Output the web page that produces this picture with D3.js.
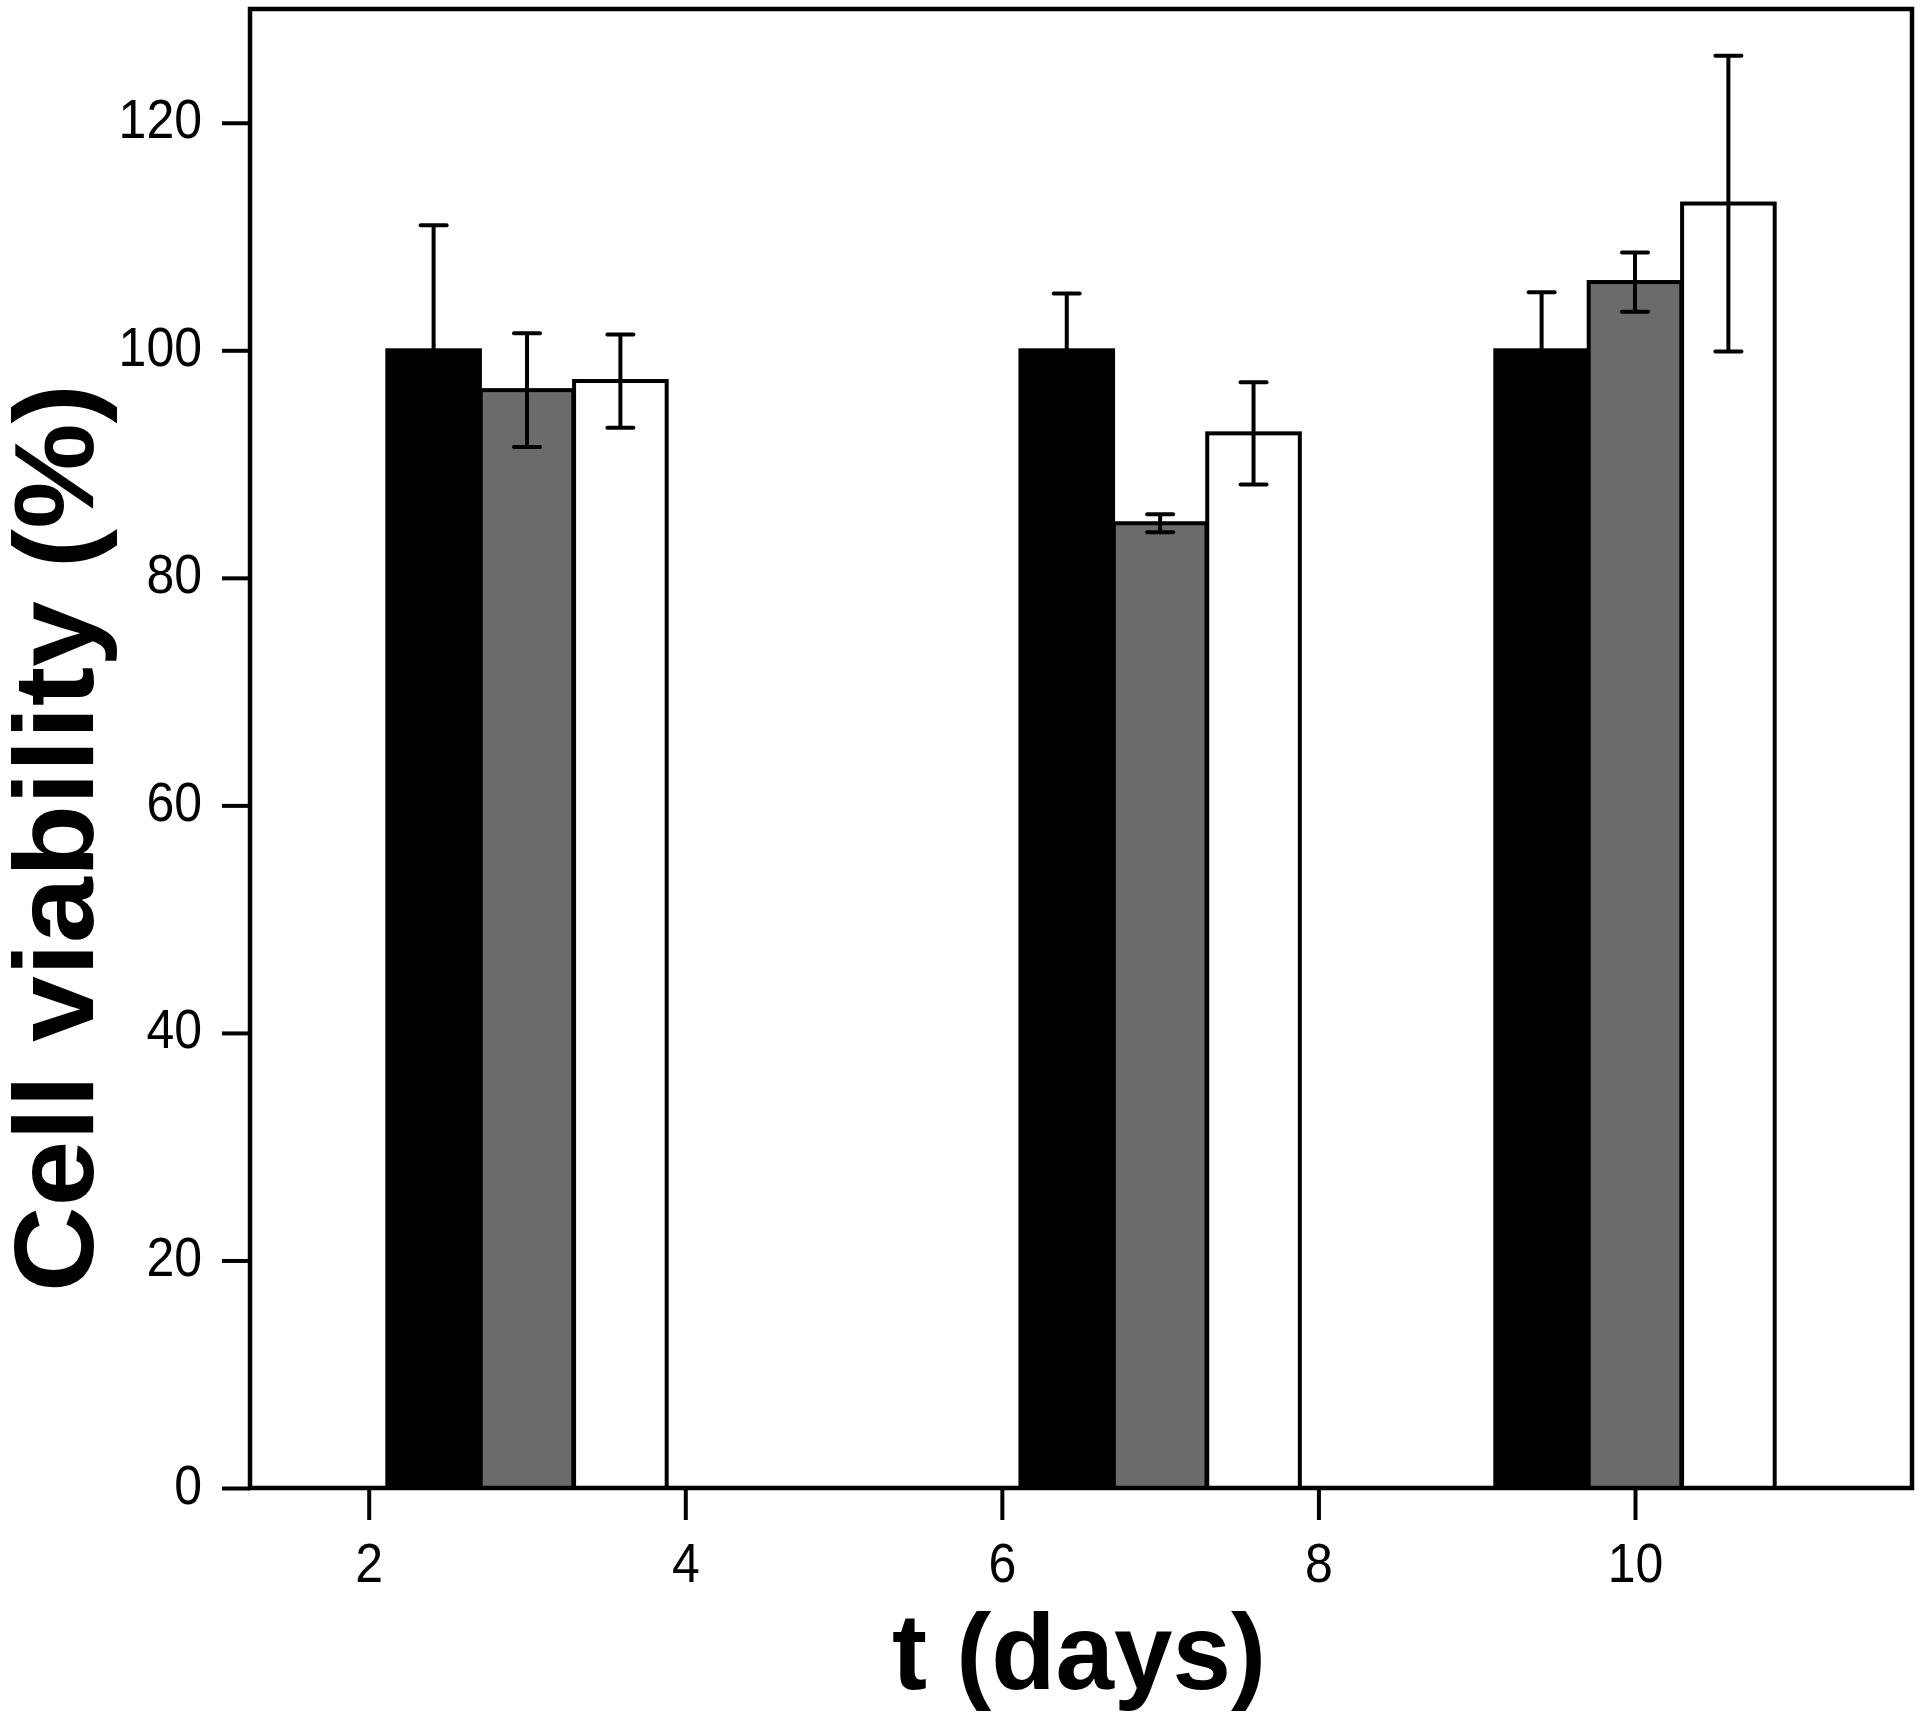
<!DOCTYPE html>
<html>
<head>
<meta charset="utf-8">
<script src="https://cdn.jsdelivr.net/npm/d3@7"></script>
<style>
  html, body { margin: 0; padding: 0; background: #fff; }
  svg { display: block; }
  text { font-family: "Liberation Sans", Arial, Helvetica, sans-serif; }
</style>
</head>
<body>
<svg id="chart" width="1920" height="1719"></svg>
<script>
// ---- data ----
const days = [3, 7, 10];
const seriesNames = ["Series 1", "Series 2", "Series 3"];
const seriesColors = ["#000000", "#6b6b6b", "#ffffff"];
const series1 = [100, 100, 100];
const series1Err = [11, 5, 5.1];
const series2 = [96.5, 84.8, 106];
const series2Err = [5, 0.8, 2.6];
const series3 = [97.3, 92.7, 112.9];
const series3Err = [4.1, 4.5, 13];
const xTicks = [2, 4, 6, 8, 10];
const yTicks = [0, 20, 40, 60, 80, 100, 120];
const xTitle = "t (days)";
const yTitle = "Cell viability (%)";

// ---- layout ----
const plotLeft = 250, plotRight = 1912, plotTop = 9, plotBottom = 1488;
const barWidth = 0.585; // in days
const offsets = [-0.59, 0, 0.59];
const labelStretch = 1.12;

const svg = d3.select("#chart");
const x = d3.scaleLinear().domain([1.25, 11.75]).range([plotLeft, plotRight]);
const y = d3.scaleLinear().domain([0, 130]).range([plotBottom, plotTop]);

const values = [series1, series2, series3];
const errs = [series1Err, series2Err, series3Err];
const rows = [];
values.forEach((vals, s) => {
  vals.forEach((v, i) => {
    rows.push({ s, day: days[i], v, e: errs[s][i] });
  });
});

// bars
svg.append("g").selectAll("rect").data(rows).join("rect")
  .attr("x", d => x(d.day + offsets[d.s] - barWidth / 2))
  .attr("y", d => y(d.v))
  .attr("width", d => x(d.day + offsets[d.s] + barWidth / 2) - x(d.day + offsets[d.s] - barWidth / 2))
  .attr("height", d => y(0) - y(d.v))
  .attr("fill", d => seriesColors[d.s])
  .attr("stroke", "#000")
  .attr("stroke-width", 4);

// error bars
const capHalf = 13;
const eg = svg.append("g").attr("stroke", "#000").attr("stroke-width", 4).attr("fill", "none");
rows.forEach(d => {
  const cx = x(d.day + offsets[d.s]);
  eg.append("line").attr("x1", cx).attr("x2", cx).attr("y1", y(d.v + d.e)).attr("y2", y(d.v - d.e));
  eg.append("line").attr("x1", cx - capHalf).attr("x2", cx + capHalf).attr("y1", y(d.v + d.e)).attr("y2", y(d.v + d.e)).attr("stroke-linecap", "round");
  eg.append("line").attr("x1", cx - capHalf).attr("x2", cx + capHalf).attr("y1", y(d.v - d.e)).attr("y2", y(d.v - d.e)).attr("stroke-linecap", "round");
});

// frame
svg.append("rect")
  .attr("x", plotLeft).attr("y", plotTop)
  .attr("width", plotRight - plotLeft).attr("height", plotBottom - plotTop)
  .attr("fill", "none").attr("stroke", "#000").attr("stroke-width", 4.5);

// axes
const xAxis = svg.append("g").attr("transform", `translate(0,${plotBottom})`)
  .call(d3.axisBottom(x).tickValues(xTicks).tickSize(32).tickPadding(22).tickFormat(d3.format("d")));
const yAxis = svg.append("g").attr("transform", `translate(${plotLeft},0)`)
  .call(d3.axisLeft(y).tickValues(yTicks).tickSize(28).tickPadding(20).tickFormat(d3.format("d")));
[xAxis, yAxis].forEach(g => {
  g.select(".domain").remove();
  g.selectAll(".tick line").attr("stroke", "#000").attr("stroke-width", 4);
  g.selectAll(".tick text").attr("fill", "#000")
    .style("font-size", "50px").style("font-family", "'Liberation Sans', Arial, sans-serif")
    .attr("transform", `scale(1,${labelStretch})`);
});
yAxis.selectAll(".tick text").attr("dy", 15 / labelStretch);
xAxis.selectAll(".tick text").attr("y", 0).attr("dy", 94 / labelStretch);

// titles
svg.append("text")
  .attr("x", (plotLeft + plotRight) / 2 - 2).attr("y", 1689)
  .attr("text-anchor", "middle")
  .attr("textLength", 374).attr("lengthAdjust", "spacingAndGlyphs")
  .style("font-size", "108px").style("font-weight", "bold")
  .text(xTitle);

svg.append("text")
  .attr("transform", "translate(93,838) rotate(-90)")
  .attr("text-anchor", "middle")
  .attr("textLength", 908).attr("lengthAdjust", "spacingAndGlyphs")
  .style("font-size", "114px").style("font-weight", "bold")
  .text(yTitle);
</script>
</body>
</html>
